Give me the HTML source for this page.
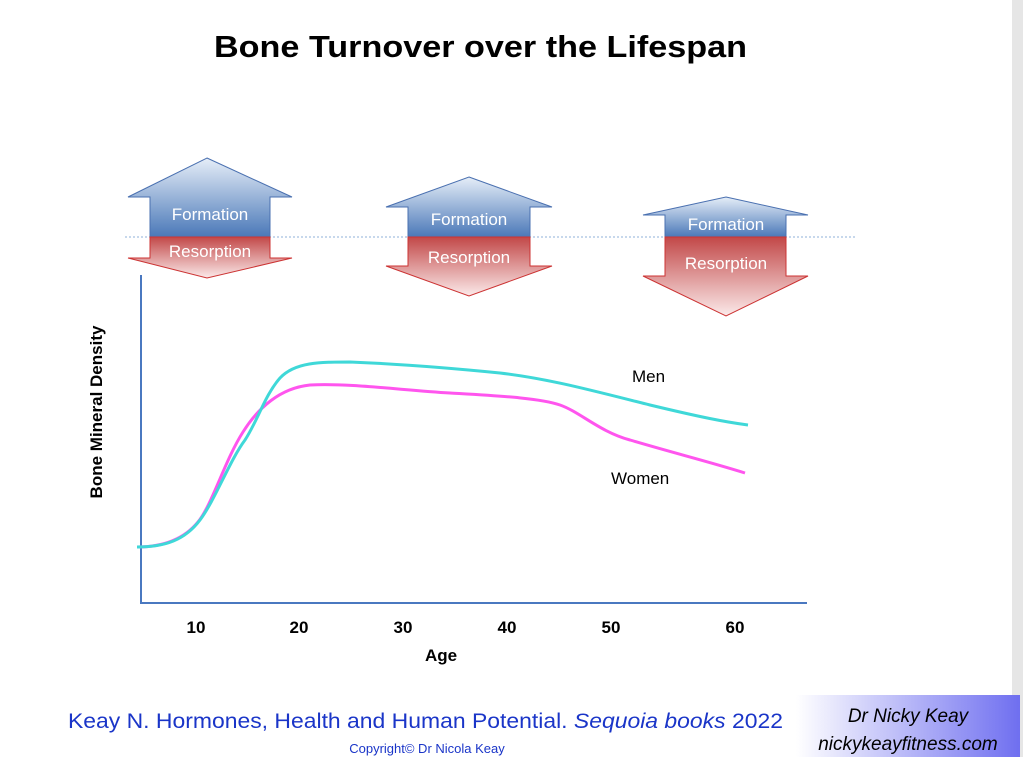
<!DOCTYPE html>
<html><head><meta charset="utf-8"><style>
html,body{margin:0;padding:0;background:#fff;}
svg{display:block;}
text{font-family:"Liberation Sans","DejaVu Sans",sans-serif;}
</style></head><body>
<svg width="1023" height="757" viewBox="0 0 1023 757" xmlns="http://www.w3.org/2000/svg">
<defs>
<linearGradient id="up" x1="0" y1="1" x2="0" y2="0"><stop offset="0" stop-color="#4a78b8"/><stop offset="1" stop-color="#e6eef8"/></linearGradient>
<linearGradient id="dn" x1="0" y1="0" x2="0" y2="1"><stop offset="0" stop-color="#c24848"/><stop offset="1" stop-color="#fbeaea"/></linearGradient>
<linearGradient id="box" x1="0" y1="0" x2="1" y2="0"><stop offset="0" stop-color="#ffffff"/><stop offset="1" stop-color="#6f6ff0"/></linearGradient>
</defs>
<rect x="1012" y="0" width="11" height="757" fill="#e6e6e6"/>
<text x="214" y="57" textLength="533" lengthAdjust="spacingAndGlyphs" font-size="31" font-weight="bold" fill="#000">Bone Turnover over the Lifespan</text>
<line x1="125" y1="237" x2="855" y2="237" stroke="#8fb0d8" stroke-width="1" stroke-dasharray="2,2"/>
<polygon points="207,158 292,197 270,197 270,237 150,237 150,197 128,197" fill="url(#up)" stroke="#4a70b0" stroke-width="1"/>
<polygon points="150,237 270,237 270,258 292,258 207,278 128,258 150,258" fill="url(#dn)" stroke="#cc3333" stroke-width="1"/>
<polygon points="469,177 552,207 530,207 530,237 408,237 408,207 386,207" fill="url(#up)" stroke="#4a70b0" stroke-width="1"/>
<polygon points="408,237 530,237 530,266 552,266 469,296 386,266 408,266" fill="url(#dn)" stroke="#cc3333" stroke-width="1"/>
<polygon points="726,197 808,215 786,215 786,237 665,237 665,215 643,215" fill="url(#up)" stroke="#4a70b0" stroke-width="1"/>
<polygon points="665,237 786,237 786,276 808,276 726,316 643,276 665,276" fill="url(#dn)" stroke="#cc3333" stroke-width="1"/>
<g font-size="17" fill="#fff" text-anchor="middle">
<text x="210" y="220">Formation</text><text x="210" y="257">Resorption</text>
<text x="469" y="225">Formation</text><text x="469" y="263">Resorption</text>
<text x="726" y="230">Formation</text><text x="726" y="269">Resorption</text>
</g>
<line x1="141" y1="275" x2="141" y2="604" stroke="#4a78c0" stroke-width="2"/>
<line x1="140" y1="603" x2="807" y2="603" stroke="#4a78c0" stroke-width="2"/>
<text transform="translate(102,412) rotate(-90)" text-anchor="middle" font-size="17" font-weight="bold">Bone Mineral Density</text>
<g font-size="17" font-weight="bold" text-anchor="middle">
<text x="196" y="633">10</text><text x="299" y="633">20</text><text x="403" y="633">30</text><text x="507" y="633">40</text><text x="611" y="633">50</text><text x="735" y="633">60</text>
<text x="441" y="661">Age</text>
</g>
<path d="M137,547 C165,547 185,538 198,522 C212,505 225,460 243,432 C258,408 280,388 310,385 C350,383 400,390 450,393 C500,396 540,398 560,405 C580,412 600,432 630,440 C670,452 710,462 745,473" fill="none" stroke="#ff55ee" stroke-width="3"/>
<path d="M137,547 C165,547 185,540 200,520 C215,500 230,460 245,440 C258,420 265,395 280,378 C295,362 320,362 350,362 C400,364 450,368 500,373 C550,379 590,390 650,405 C700,417 725,422 748,425" fill="none" stroke="#3fd8d8" stroke-width="3"/>
<text x="632" y="382" font-size="17">Men</text>
<text x="611" y="484" font-size="17">Women</text>
<text x="68" y="728" font-size="21" fill="#1a35c8" textLength="715" lengthAdjust="spacingAndGlyphs">Keay N. Hormones, Health and Human Potential. <tspan font-style="italic">Sequoia books</tspan> 2022</text>
<text x="427" y="753" text-anchor="middle" font-size="13" fill="#1a35c8">Copyright© Dr Nicola Keay</text>
<rect x="796" y="695" width="224" height="62" fill="url(#box)"/>
<g font-size="19" font-style="italic" text-anchor="middle" fill="#000">
<text x="908" y="722">Dr Nicky Keay</text>
<text x="908" y="750">nickykeayfitness.com</text>
</g>
</svg>
</body></html>
